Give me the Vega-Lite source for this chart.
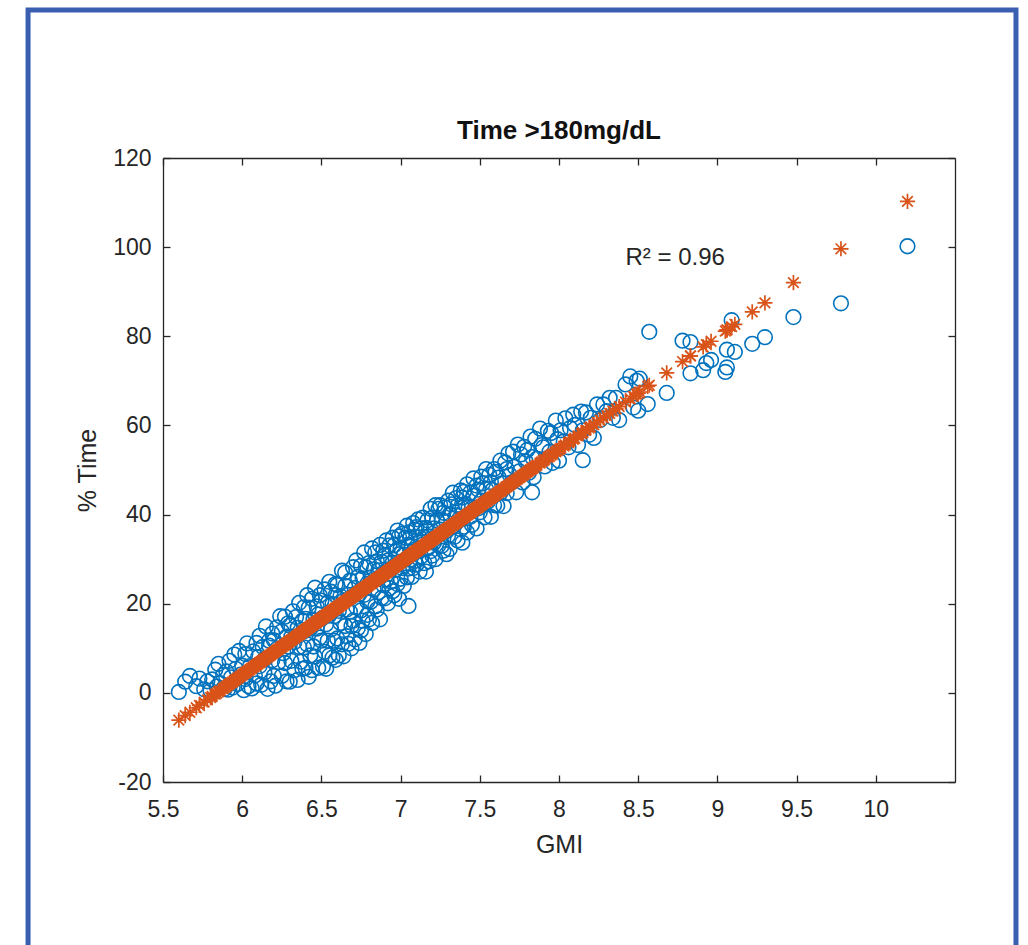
{
 "$schema": "https://vega.github.io/schema/vega-lite/v6.json",
 "width": 792, "height": 624,
 "autosize": {"type": "none"},
 "padding": {"left": 163, "top": 158, "right": 73, "bottom": 163},
 "background": "white",
 "config": {"font": "Liberation Sans", "view": {"stroke": null}},
 "title": {"text": "Time >180mg/dL", "fontSize": 26, "fontWeight": "bold", "font": "Liberation Sans", "color": "#111111", "baseline": "bottom", "offset": -162},
 "datasets": {"pts": [
{"g":5.60,"t":0.2,"f":-6.12},{"g":5.64,"t":2.5,"f":-5.11},{"g":5.67,"t":3.8,"f":-4.35},
{"g":5.71,"t":1.5,"f":-3.34},{"g":5.73,"t":3.2,"f":-2.83},{"g":5.76,"t":0.8,"f":-2.07},{"g":5.78,"t":2.6,"f":-1.57},
{"g":5.80,"t":0.5,"f":-1.06},{"g":5.81,"t":3.0,"f":-0.81},{"g":5.83,"t":5.2,"f":-0.30},{"g":5.84,"t":1.4,"f":-0.05},{"g":5.85,"t":6.5,"f":0.21},{"g":5.86,"t":2.2,"f":0.46},{"g":5.88,"t":4.0,"f":0.96},{"g":5.89,"t":0.9,"f":1.22},
{"g":5.90,"t":4.8,"f":1.47},{"g":5.91,"t":0.7,"f":1.72},{"g":5.92,"t":7.2,"f":1.98},{"g":5.93,"t":3.5,"f":2.23},{"g":5.94,"t":1.2,"f":2.48},{"g":5.95,"t":8.6,"f":2.74},{"g":5.96,"t":5.4,"f":2.99},{"g":5.97,"t":2.0,"f":3.24},{"g":5.98,"t":9.4,"f":3.49},{"g":5.99,"t":4.1,"f":3.75},
{"g":6.00,"t":6.1,"f":4.00},{"g":6.01,"t":0.6,"f":4.25},{"g":6.02,"t":8.7,"f":4.51},{"g":6.02,"t":3.1,"f":4.51},{"g":6.03,"t":11.1,"f":4.76},{"g":6.04,"t":1.5,"f":5.01},{"g":6.05,"t":6.0,"f":5.27},{"g":6.06,"t":1.0,"f":5.52},{"g":6.07,"t":9.3,"f":5.77},{"g":6.08,"t":3.9,"f":6.02},{"g":6.09,"t":11.2,"f":6.28},{"g":6.09,"t":2.1,"f":6.28},
{"g":6.10,"t":8.0,"f":6.53},{"g":6.11,"t":6.0,"f":6.78},{"g":6.11,"t":12.8,"f":6.78},{"g":6.12,"t":1.8,"f":7.04},{"g":6.13,"t":10.3,"f":7.29},{"g":6.14,"t":4.5,"f":7.54},{"g":6.14,"t":7.5,"f":7.54},{"g":6.15,"t":14.9,"f":7.80},{"g":6.16,"t":0.9,"f":8.05},{"g":6.17,"t":11.7,"f":8.30},{"g":6.17,"t":10.6,"f":8.30},{"g":6.18,"t":2.6,"f":8.55},{"g":6.19,"t":13.3,"f":8.81},{"g":6.19,"t":7.3,"f":8.81},
{"g":6.20,"t":3.8,"f":9.06},{"g":6.20,"t":11.8,"f":9.06},{"g":6.21,"t":1.6,"f":9.31},{"g":6.22,"t":14.7,"f":9.57},{"g":6.22,"t":9.9,"f":9.57},{"g":6.23,"t":6.9,"f":9.82},{"g":6.24,"t":17.2,"f":10.07},{"g":6.25,"t":3.8,"f":10.33},{"g":6.25,"t":13.8,"f":10.33},{"g":6.26,"t":8.9,"f":10.58},{"g":6.27,"t":17.1,"f":10.83},{"g":6.27,"t":6.7,"f":10.83},{"g":6.28,"t":12.6,"f":11.08},{"g":6.28,"t":2.6,"f":11.08},{"g":6.29,"t":15.6,"f":11.34},{"g":6.29,"t":10.4,"f":11.34},
{"g":6.30,"t":15.1,"f":11.59},{"g":6.30,"t":2.5,"f":11.59},{"g":6.31,"t":12.6,"f":11.84},{"g":6.31,"t":7.2,"f":11.84},{"g":6.32,"t":18.3,"f":12.10},{"g":6.33,"t":5.1,"f":12.35},{"g":6.33,"t":11.4,"f":12.35},{"g":6.34,"t":17.0,"f":12.60},{"g":6.35,"t":2.9,"f":12.86},{"g":6.35,"t":14.6,"f":12.86},{"g":6.36,"t":10.3,"f":13.11},{"g":6.36,"t":20.2,"f":13.11},{"g":6.37,"t":7.0,"f":13.36},{"g":6.38,"t":16.2,"f":13.61},{"g":6.38,"t":5.4,"f":13.61},{"g":6.39,"t":19.2,"f":13.87},{"g":6.39,"t":10.2,"f":13.87},{"g":6.39,"t":13.8,"f":13.87},
{"g":6.40,"t":16.6,"f":14.12},{"g":6.40,"t":5.6,"f":14.12},{"g":6.41,"t":21.9,"f":14.37},{"g":6.41,"t":10.9,"f":14.37},{"g":6.42,"t":3.6,"f":14.63},{"g":6.42,"t":19.1,"f":14.63},{"g":6.43,"t":14.4,"f":14.88},{"g":6.43,"t":8.4,"f":14.88},{"g":6.44,"t":21.1,"f":15.13},{"g":6.44,"t":5.1,"f":15.13},{"g":6.45,"t":16.4,"f":15.39},{"g":6.45,"t":10.4,"f":15.39},{"g":6.46,"t":23.6,"f":15.64},{"g":6.46,"t":8.1,"f":15.64},{"g":6.47,"t":14.4,"f":15.89},{"g":6.47,"t":19.4,"f":15.89},{"g":6.48,"t":5.6,"f":16.14},{"g":6.48,"t":17.6,"f":16.14},{"g":6.49,"t":12.4,"f":16.40},{"g":6.49,"t":21.9,"f":16.40},
{"g":6.50,"t":11.7,"f":16.65},{"g":6.50,"t":20.7,"f":16.65},{"g":6.51,"t":5.9,"f":16.90},{"g":6.51,"t":16.9,"f":16.90},{"g":6.52,"t":23.2,"f":17.16},{"g":6.52,"t":9.2,"f":17.16},{"g":6.53,"t":15.4,"f":17.41},{"g":6.53,"t":5.4,"f":17.41},{"g":6.54,"t":20.2,"f":17.66},{"g":6.54,"t":11.7,"f":17.66},{"g":6.55,"t":24.9,"f":17.92},{"g":6.55,"t":8.4,"f":17.92},{"g":6.55,"t":17.4,"f":17.92},{"g":6.56,"t":14.2,"f":18.17},{"g":6.56,"t":22.7,"f":18.17},{"g":6.57,"t":7.9,"f":18.42},{"g":6.57,"t":19.9,"f":18.42},{"g":6.58,"t":11.7,"f":18.67},{"g":6.58,"t":17.2,"f":18.67},{"g":6.59,"t":24.4,"f":18.93},{"g":6.59,"t":7.4,"f":18.93},{"g":6.59,"t":21.9,"f":18.93},
{"g":6.60,"t":24.2,"f":19.18},{"g":6.60,"t":12.2,"f":19.18},{"g":6.61,"t":18.4,"f":19.43},{"g":6.61,"t":8.4,"f":19.43},{"g":6.62,"t":21.7,"f":19.69},{"g":6.62,"t":15.7,"f":19.69},{"g":6.63,"t":27.4,"f":19.94},{"g":6.63,"t":10.9,"f":19.94},{"g":6.64,"t":20.7,"f":20.19},{"g":6.64,"t":8.2,"f":20.19},{"g":6.65,"t":24.0,"f":20.45},{"g":6.65,"t":15.0,"f":20.45},{"g":6.65,"t":27.0,"f":20.45},{"g":6.66,"t":12.7,"f":20.70},{"g":6.66,"t":18.7,"f":20.70},{"g":6.67,"t":11.0,"f":20.95},{"g":6.67,"t":22.0,"f":20.95},{"g":6.68,"t":18.2,"f":21.20},{"g":6.68,"t":25.2,"f":21.20},{"g":6.69,"t":15.0,"f":21.46},{"g":6.69,"t":21.5,"f":21.46},{"g":6.69,"t":10.0,"f":21.46},
{"g":6.70,"t":16.2,"f":21.71},{"g":6.70,"t":28.2,"f":21.71},{"g":6.71,"t":12.0,"f":21.96},{"g":6.71,"t":23.5,"f":21.96},{"g":6.72,"t":19.2,"f":22.22},{"g":6.72,"t":29.7,"f":22.22},{"g":6.73,"t":14.5,"f":22.47},{"g":6.73,"t":26.0,"f":22.47},{"g":6.74,"t":11.2,"f":22.72},{"g":6.74,"t":22.2,"f":22.72},{"g":6.75,"t":28.5,"f":22.98},{"g":6.75,"t":18.5,"f":22.98},{"g":6.75,"t":14.0,"f":22.98},{"g":6.76,"t":25.7,"f":23.23},{"g":6.76,"t":16.2,"f":23.23},{"g":6.77,"t":31.5,"f":23.48},{"g":6.77,"t":22.0,"f":23.48},{"g":6.78,"t":13.2,"f":23.73},{"g":6.78,"t":28.2,"f":23.73},{"g":6.79,"t":20.5,"f":23.99},{"g":6.79,"t":24.5,"f":23.99},{"g":6.79,"t":17.5,"f":23.99},
{"g":6.80,"t":29.1,"f":24.24},{"g":6.80,"t":16.5,"f":24.24},{"g":6.81,"t":25.8,"f":24.49},{"g":6.81,"t":20.4,"f":24.49},{"g":6.82,"t":32.4,"f":24.75},{"g":6.82,"t":15.7,"f":24.75},{"g":6.83,"t":27.7,"f":25.00},{"g":6.83,"t":23.2,"f":25.00},{"g":6.84,"t":31.5,"f":25.25},{"g":6.84,"t":19.4,"f":25.25},{"g":6.85,"t":25.5,"f":25.51},{"g":6.85,"t":29.5,"f":25.51},{"g":6.85,"t":18.7,"f":25.51},{"g":6.86,"t":27.5,"f":25.76},{"g":6.86,"t":22.6,"f":25.76},{"g":6.87,"t":33.2,"f":26.01},{"g":6.87,"t":16.5,"f":26.01},{"g":6.88,"t":29.4,"f":26.26},{"g":6.88,"t":21.3,"f":26.26},{"g":6.89,"t":31.9,"f":26.52},{"g":6.89,"t":24.2,"f":26.52},{"g":6.89,"t":26.9,"f":26.52},
{"g":6.90,"t":21.2,"f":26.77},{"g":6.90,"t":30.8,"f":26.77},{"g":6.91,"t":25.4,"f":27.02},{"g":6.91,"t":34.2,"f":27.02},{"g":6.92,"t":20.1,"f":27.28},{"g":6.92,"t":29.7,"f":27.28},{"g":6.93,"t":23.5,"f":27.53},{"g":6.93,"t":33.1,"f":27.53},{"g":6.94,"t":27.8,"f":27.78},{"g":6.94,"t":25.0,"f":27.78},{"g":6.95,"t":34.8,"f":28.04},{"g":6.95,"t":22.8,"f":28.04},{"g":6.95,"t":29.2,"f":28.04},{"g":6.96,"t":33.1,"f":28.29},{"g":6.96,"t":21.9,"f":28.29},{"g":6.97,"t":31.7,"f":28.54},{"g":6.97,"t":27.7,"f":28.54},{"g":6.98,"t":36.4,"f":28.79},{"g":6.98,"t":24.4,"f":28.79},{"g":6.99,"t":31.1,"f":29.05},{"g":6.99,"t":21.1,"f":29.05},{"g":6.99,"t":35.1,"f":29.05},
{"g":7.00,"t":32.6,"f":29.30},{"g":7.00,"t":25.6,"f":29.30},{"g":7.01,"t":35.7,"f":29.55},{"g":7.01,"t":28.0,"f":29.55},{"g":7.02,"t":31.0,"f":29.81},{"g":7.02,"t":24.0,"f":29.81},{"g":7.03,"t":34.8,"f":30.06},{"g":7.03,"t":29.9,"f":30.06},{"g":7.04,"t":37.5,"f":30.31},{"g":7.04,"t":25.9,"f":30.31},{"g":7.05,"t":33.2,"f":30.57},{"g":7.05,"t":27.9,"f":30.57},{"g":7.05,"t":36.0,"f":30.57},{"g":7.06,"t":29.9,"f":30.82},{"g":7.06,"t":34.8,"f":30.82},{"g":7.07,"t":26.0,"f":31.07},{"g":7.07,"t":33.0,"f":31.07},{"g":7.08,"t":28.0,"f":31.32},{"g":7.08,"t":38.1,"f":31.32},{"g":7.09,"t":32.1,"f":31.58},{"g":7.09,"t":29.6,"f":31.58},{"g":7.09,"t":36.6,"f":31.58},{"g":7.05,"t":19.5,"f":30.57},
{"g":7.10,"t":28.8,"f":31.83},{"g":7.10,"t":37.2,"f":31.83},{"g":7.11,"t":31.9,"f":32.08},{"g":7.11,"t":38.9,"f":32.08},{"g":7.12,"t":27.2,"f":32.34},{"g":7.12,"t":34.9,"f":32.34},{"g":7.13,"t":36.9,"f":32.59},{"g":7.13,"t":30.6,"f":32.59},{"g":7.14,"t":33.3,"f":32.84},{"g":7.14,"t":39.3,"f":32.84},{"g":7.15,"t":29.1,"f":33.10},{"g":7.15,"t":35.0,"f":33.10},{"g":7.16,"t":27.2,"f":33.35},{"g":7.16,"t":37.0,"f":33.35},{"g":7.17,"t":38.7,"f":33.60},{"g":7.17,"t":32.4,"f":33.60},{"g":7.18,"t":35.1,"f":33.85},{"g":7.18,"t":29.5,"f":33.85},{"g":7.19,"t":41.3,"f":34.11},{"g":7.19,"t":31.8,"f":34.11},
{"g":7.20,"t":39.3,"f":34.36},{"g":7.20,"t":30.8,"f":34.36},{"g":7.21,"t":36.9,"f":34.61},{"g":7.21,"t":33.7,"f":34.61},{"g":7.22,"t":42.1,"f":34.87},{"g":7.22,"t":30.0,"f":34.87},{"g":7.23,"t":38.7,"f":35.12},{"g":7.23,"t":35.5,"f":35.12},{"g":7.24,"t":41.3,"f":35.37},{"g":7.24,"t":33.1,"f":35.37},{"g":7.25,"t":36.6,"f":35.63},{"g":7.25,"t":42.1,"f":35.63},{"g":7.26,"t":33.0,"f":35.88},{"g":7.26,"t":38.8,"f":35.88},{"g":7.27,"t":31.9,"f":36.13},{"g":7.27,"t":40.4,"f":36.13},{"g":7.28,"t":36.1,"f":36.38},{"g":7.28,"t":41.6,"f":36.38},{"g":7.29,"t":31.1,"f":36.64},{"g":7.29,"t":38.3,"f":36.64},
{"g":7.30,"t":35.3,"f":36.89},{"g":7.30,"t":43.1,"f":36.89},{"g":7.31,"t":32.3,"f":37.14},{"g":7.31,"t":40.1,"f":37.14},{"g":7.32,"t":42.3,"f":37.40},{"g":7.33,"t":37.4,"f":37.65},{"g":7.33,"t":44.9,"f":37.65},{"g":7.34,"t":35.0,"f":37.90},{"g":7.35,"t":39.8,"f":38.16},{"g":7.35,"t":43.7,"f":38.16},{"g":7.36,"t":34.2,"f":38.41},{"g":7.36,"t":42.0,"f":38.41},{"g":7.37,"t":39.0,"f":38.66},{"g":7.38,"t":45.4,"f":38.91},{"g":7.38,"t":36.7,"f":38.91},{"g":7.39,"t":41.5,"f":39.17},{"g":7.39,"t":33.7,"f":39.17},{"g":7.39,"t":43.8,"f":39.17},
{"g":7.40,"t":45.1,"f":39.42},{"g":7.40,"t":37.3,"f":39.42},{"g":7.41,"t":42.4,"f":39.67},{"g":7.42,"t":36.0,"f":39.93},{"g":7.42,"t":46.8,"f":39.93},{"g":7.43,"t":41.7,"f":40.18},{"g":7.44,"t":39.5,"f":40.43},{"g":7.44,"t":44.9,"f":40.43},{"g":7.45,"t":37.7,"f":40.69},{"g":7.46,"t":48.1,"f":40.94},{"g":7.46,"t":44.2,"f":40.94},{"g":7.47,"t":41.5,"f":41.19},{"g":7.48,"t":46.5,"f":41.44},{"g":7.48,"t":36.9,"f":41.44},{"g":7.49,"t":45.6,"f":41.70},{"g":7.49,"t":41.4,"f":41.70},
{"g":7.50,"t":40.5,"f":41.95},{"g":7.51,"t":48.5,"f":42.20},{"g":7.51,"t":43.1,"f":42.20},{"g":7.52,"t":47.0,"f":42.46},{"g":7.53,"t":39.4,"f":42.71},{"g":7.54,"t":50.2,"f":42.96},{"g":7.54,"t":45.7,"f":42.96},{"g":7.55,"t":42.9,"f":43.22},{"g":7.56,"t":48.9,"f":43.47},{"g":7.57,"t":39.5,"f":43.72},{"g":7.57,"t":47.3,"f":43.72},{"g":7.58,"t":45.5,"f":43.97},{"g":7.59,"t":50.2,"f":44.23},{"g":7.59,"t":42.1,"f":44.23},
{"g":7.60,"t":49.6,"f":44.48},{"g":7.61,"t":42.0,"f":44.73},{"g":7.62,"t":48.3,"f":44.99},{"g":7.63,"t":52.1,"f":45.24},{"g":7.63,"t":44.9,"f":45.24},{"g":7.64,"t":47.0,"f":45.49},{"g":7.65,"t":41.9,"f":45.75},{"g":7.66,"t":51.7,"f":46.00},{"g":7.67,"t":50.2,"f":46.25},{"g":7.67,"t":44.8,"f":46.25},{"g":7.68,"t":53.7,"f":46.50},{"g":7.69,"t":48.9,"f":46.76},
{"g":7.70,"t":47.2,"f":47.01},{"g":7.71,"t":54.1,"f":47.26},{"g":7.72,"t":50.7,"f":47.52},{"g":7.73,"t":45.0,"f":47.77},{"g":7.74,"t":55.7,"f":48.02},{"g":7.75,"t":49.7,"f":48.28},{"g":7.76,"t":53.5,"f":48.53},{"g":7.77,"t":47.2,"f":48.78},{"g":7.78,"t":55.2,"f":49.03},{"g":7.79,"t":51.9,"f":49.29},
{"g":7.80,"t":54.5,"f":49.54},{"g":7.81,"t":49.4,"f":49.79},{"g":7.82,"t":57.5,"f":50.05},{"g":7.83,"t":52.9,"f":50.30},{"g":7.84,"t":48.4,"f":50.55},{"g":7.85,"t":57.0,"f":50.81},{"g":7.86,"t":52.5,"f":51.06},{"g":7.88,"t":59.3,"f":51.56},{"g":7.89,"t":55.6,"f":51.82},{"g":7.83,"t":45.0,"f":50.30},
{"g":7.90,"t":55.1,"f":52.07},{"g":7.91,"t":50.8,"f":52.32},{"g":7.93,"t":58.8,"f":52.83},{"g":7.94,"t":54.1,"f":53.08},{"g":7.95,"t":58.3,"f":53.34},{"g":7.96,"t":51.6,"f":53.59},{"g":7.98,"t":61.1,"f":54.09},{"g":7.99,"t":56.9,"f":54.35},
{"g":8.00,"t":52.1,"f":54.60},{"g":8.01,"t":58.9,"f":54.85},{"g":8.03,"t":56.4,"f":55.36},{"g":8.04,"t":61.6,"f":55.61},{"g":8.06,"t":55.1,"f":56.12},{"g":8.07,"t":59.4,"f":56.37},{"g":8.09,"t":62.4,"f":56.88},
{"g":8.10,"t":60.1,"f":57.13},{"g":8.12,"t":55.6,"f":57.64},{"g":8.14,"t":63.1,"f":58.14},{"g":8.15,"t":58.9,"f":58.40},{"g":8.17,"t":62.9,"f":58.90},{"g":8.19,"t":57.9,"f":59.41},{"g":8.15,"t":52.2,"f":58.40},
{"g":8.20,"t":61.7,"f":59.66},{"g":8.22,"t":57.2,"f":60.17},{"g":8.24,"t":64.7,"f":60.67},{"g":8.26,"t":61.2,"f":61.18},{"g":8.28,"t":64.7,"f":61.69},
{"g":8.30,"t":63.2,"f":62.19},{"g":8.32,"t":66.2,"f":62.70},{"g":8.34,"t":61.7,"f":63.20},{"g":8.36,"t":66.2,"f":63.71},{"g":8.38,"t":61.2,"f":64.21},
{"g":8.42,"t":69.2,"f":65.23},{"g":8.45,"t":71.0,"f":65.99},{"g":8.47,"t":64.0,"f":66.49},{"g":8.49,"t":70.0,"f":66.99},
{"g":8.50,"t":63.3,"f":67.25},{"g":8.51,"t":70.5,"f":67.50},{"g":8.56,"t":64.8,"f":68.77},
{"g":8.57,"t":81.0,"f":69.02},{"g":8.68,"t":67.3,"f":71.80},{"g":8.78,"t":79.0,"f":74.33},{"g":8.83,"t":78.7,"f":75.60},{"g":8.83,"t":71.7,"f":75.60},{"g":8.91,"t":72.4,"f":77.62},{"g":8.93,"t":74.0,"f":78.13},{"g":8.96,"t":74.7,"f":78.89},{"g":9.05,"t":72.0,"f":81.17},{"g":9.06,"t":73.0,"f":81.42},{"g":9.06,"t":77.0,"f":81.42},{"g":9.09,"t":83.6,"f":82.18},{"g":9.11,"t":76.5,"f":82.69},{"g":9.22,"t":78.3,"f":85.47},{"g":9.30,"t":79.8,"f":87.49},{"g":9.48,"t":84.3,"f":92.04},{"g":9.78,"t":87.4,"f":99.63},{"g":10.20,"t":100.2,"f":110.26}
 ]},
 "layer": [
  {
   "data": {"values": [{}]},
   "mark": {"type": "rect", "filled": false, "stroke": "#3b5fb0", "strokeWidth": 5, "clip": false},
   "encoding": {
    "x": {"datum": 4.648, "type": "quantitative", "scale": {"domain": [5.5, 10.5], "nice": false, "zero": false}, "axis": null},
    "x2": {"datum": 10.885},
    "y": {"datum": 153.2, "type": "quantitative", "scale": {"domain": [-20, 120], "nice": false, "zero": false}, "axis": null},
    "y2": {"datum": -60}
   }
  },
  {
   "data": {"name": "pts"},
   "mark": {"type": "point", "shape": "circle", "filled": false, "size": 215, "strokeWidth": 1.6, "color": "#0072BD", "opacity": 1},
   "encoding": {
    "x": {"field": "g", "type": "quantitative", "scale": {"domain": [5.5, 10.5], "nice": false, "zero": false},
     "axis": {"orient": "bottom", "values": [5.5, 6, 6.5, 7, 7.5, 8, 8.5, 9, 9.5, 10], "labelExpr": "datum.value", "grid": false, "labelFlush": false,
      "tickSize": -7, "tickColor": "#262626", "tickWidth": 1.3, "domainColor": "#262626", "domainWidth": 1.3,
      "labelPadding": 23, "labelFontSize": 23, "labelColor": "#262626", "labelFont": "Liberation Sans",
      "title": "GMI", "titleFontSize": 25, "titleFontWeight": "normal", "titleColor": "#262626", "titleFont": "Liberation Sans", "titlePadding": 11}},
    "y": {"field": "t", "type": "quantitative", "scale": {"domain": [-20, 120], "nice": false, "zero": false},
     "axis": {"orient": "left", "values": [-20, 0, 20, 40, 60, 80, 100, 120], "labelExpr": "datum.value", "grid": false, "labelFlush": false,
      "tickSize": -7, "tickColor": "#262626", "tickWidth": 1.3, "domainColor": "#262626", "domainWidth": 1.3,
      "labelPadding": 19, "labelFontSize": 23, "labelColor": "#262626", "labelFont": "Liberation Sans",
      "title": "% Time", "titleFontSize": 25, "titleFontWeight": "normal", "titleColor": "#262626", "titleFont": "Liberation Sans", "titlePadding": 12}}
   }
  },
  {
   "data": {"name": "pts"},
   "mark": {"type": "point", "shape": "M-1,0L1,0M0,-1L0,1M-0.7,-0.7L0.7,0.7M-0.7,0.7L0.7,-0.7", "filled": false, "size": 230, "strokeWidth": 1.7, "color": "#D95319", "opacity": 1},
   "encoding": {
    "x": {"field": "g", "type": "quantitative", "scale": {"domain": [5.5, 10.5], "nice": false, "zero": false},
     "axis": {"orient": "top", "values": [5.5, 6, 6.5, 7, 7.5, 8, 8.5, 9, 9.5, 10], "labels": false, "grid": false, "title": null,
      "tickSize": -7, "tickColor": "#262626", "tickWidth": 1.3, "domainColor": "#262626", "domainWidth": 1.3}},
    "y": {"field": "f", "type": "quantitative", "scale": {"domain": [-20, 120], "nice": false, "zero": false},
     "axis": {"orient": "right", "values": [-20, 0, 20, 40, 60, 80, 100, 120], "labels": false, "grid": false, "title": null,
      "tickSize": -7, "tickColor": "#262626", "tickWidth": 1.3, "domainColor": "#262626", "domainWidth": 1.3}}
   }
  },
  {
   "data": {"values": [{}]},
   "mark": {"type": "text", "text": "R² = 0.96", "align": "left", "baseline": "middle", "fontSize": 24, "font": "Liberation Sans", "color": "#262626"},
   "encoding": {
    "x": {"datum": 8.42, "type": "quantitative", "scale": {"domain": [5.5, 10.5], "nice": false, "zero": false}, "axis": null},
    "y": {"datum": 97.5, "type": "quantitative", "scale": {"domain": [-20, 120], "nice": false, "zero": false}, "axis": null}
   }
  }
 ],
 "resolve": {"axis": {"x": "independent", "y": "independent"}}
}
